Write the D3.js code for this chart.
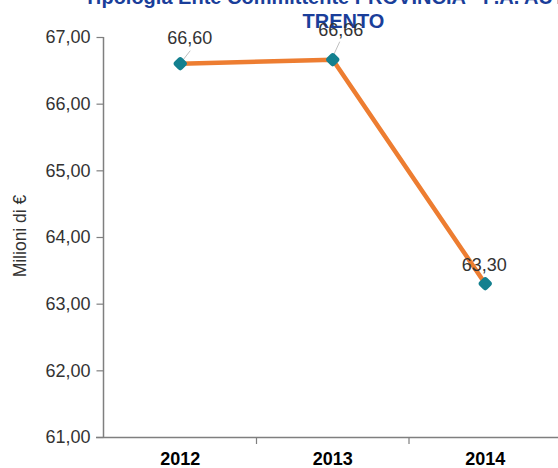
<!DOCTYPE html>
<html><head><meta charset="utf-8">
<script src="https://cdn.jsdelivr.net/npm/d3@7"></script>
<style>body{margin:0;background:#fff;}svg{display:block;}</style>
</head><body>
<script>
const titleLines = ["Tipologia Ente Committente PROVINCIA - P.A. AUTONOMA", "TRENTO"];
const years = ["2012", "2013", "2014"];
const values = [66.60, 66.66, 63.30];
const yTicks = [61, 62, 63, 64, 65, 66, 67];
const yTitle = "Milioni di €";

const W = 558, H = 468;
const svg = d3.select("body").append("svg").attr("width", W).attr("height", H);
const font = "Arial, 'Liberation Sans', sans-serif";
const fmt = v => d3.format(".2f")(v).replace(".", ",");

const y = d3.scaleLinear().domain([61, 67]).range([437, 37]);
const xBand = d3.scaleBand().domain(years).range([104, 561.5]);
const xc = d => xBand(d) + xBand.bandwidth() / 2;

// Y axis
const yAxis = svg.append("g").attr("transform", "translate(103.5,0)")
  .call(d3.axisLeft(y).tickValues(yTicks).tickSize(7).tickPadding(6).tickFormat(fmt));
yAxis.select(".domain").attr("stroke", "#7f7f7f").attr("stroke-width", 1.5).attr("d", "M0,37V437");
yAxis.selectAll(".tick line").attr("stroke", "#7f7f7f").attr("stroke-width", 1.2);
yAxis.selectAll(".tick text").attr("font-family", font).attr("font-size", 18).attr("fill", "#333");

// X axis
const xg = svg.append("g");
xg.append("line").attr("x1", 96).attr("x2", W).attr("y1", 437.5).attr("y2", 437.5)
  .attr("stroke", "#7f7f7f").attr("stroke-width", 1.5);
xg.selectAll(".xt").data(years.slice(1)).join("line")
  .attr("x1", d => xBand(d)).attr("x2", d => xBand(d))
  .attr("y1", 437).attr("y2", 444).attr("stroke", "#7f7f7f").attr("stroke-width", 1.2);
xg.selectAll(".xl").data(years).join("text")
  .attr("x", d => xc(d)).attr("y", 465)
  .attr("text-anchor", "middle").attr("font-family", font).attr("font-size", 18)
  .attr("font-weight", "bold").attr("fill", "#000").text(d => d);

// Y title
svg.append("text").attr("transform", "translate(26,236) rotate(-90)")
  .attr("text-anchor", "middle").attr("font-family", font).attr("font-size", 17.5)
  .attr("fill", "#333").text(yTitle);

// Line
const data = years.map((d, i) => ({ year: d, value: values[i] }));
svg.append("path").datum(data)
  .attr("d", d3.line().x(d => xc(d.year)).y(d => y(d.value)))
  .attr("fill", "none").attr("stroke", "#ED7D31").attr("stroke-width", 4.5).attr("stroke-linejoin", "round");

// Leader lines
const lblOff = [[9.5, -20], [8, -24], [-1, -13]];
const leaders = [[[10, -13], [3, -4]], [[7, -18], [1, -5]], null];
data.forEach((d, i) => {
  if (!leaders[i]) return;
  const px = xc(d.year), py = y(d.value);
  svg.append("line").attr("x1", px + leaders[i][0][0]).attr("y1", py + leaders[i][0][1])
    .attr("x2", px + leaders[i][1][0]).attr("y2", py + leaders[i][1][1])
    .attr("stroke", "#bfbfbf").attr("stroke-width", 1);
});

// Markers
svg.selectAll(".mk").data(data).join("rect")
  .attr("x", -5.5).attr("y", -5.5).attr("width", 11).attr("height", 11).attr("rx", 3)
  .attr("transform", d => `translate(${xc(d.year)},${y(d.value)}) rotate(45)`)
  .attr("fill", "#13808F");

// Title
svg.append("text").attr("x", 84).attr("y", 3.5)
  .attr("font-family", font).attr("font-size", 20)
  .attr("font-weight", "bold").attr("fill", "#1A3E9A").text(titleLines[0]);
svg.append("text").attr("x", 343.5).attr("y", 27.5).attr("text-anchor", "middle")
  .attr("font-family", font).attr("font-size", 20)
  .attr("font-weight", "bold").attr("fill", "#1A3E9A").text(titleLines[1]);

// Data labels
svg.selectAll(".dl").data(data).join("text")
  .attr("x", (d, i) => xc(d.year) + lblOff[i][0]).attr("y", (d, i) => y(d.value) + lblOff[i][1])
  .attr("text-anchor", "middle").attr("font-family", font).attr("font-size", 18)
  .attr("fill", "#333").text(d => fmt(d.value));
</script>
</body></html>
